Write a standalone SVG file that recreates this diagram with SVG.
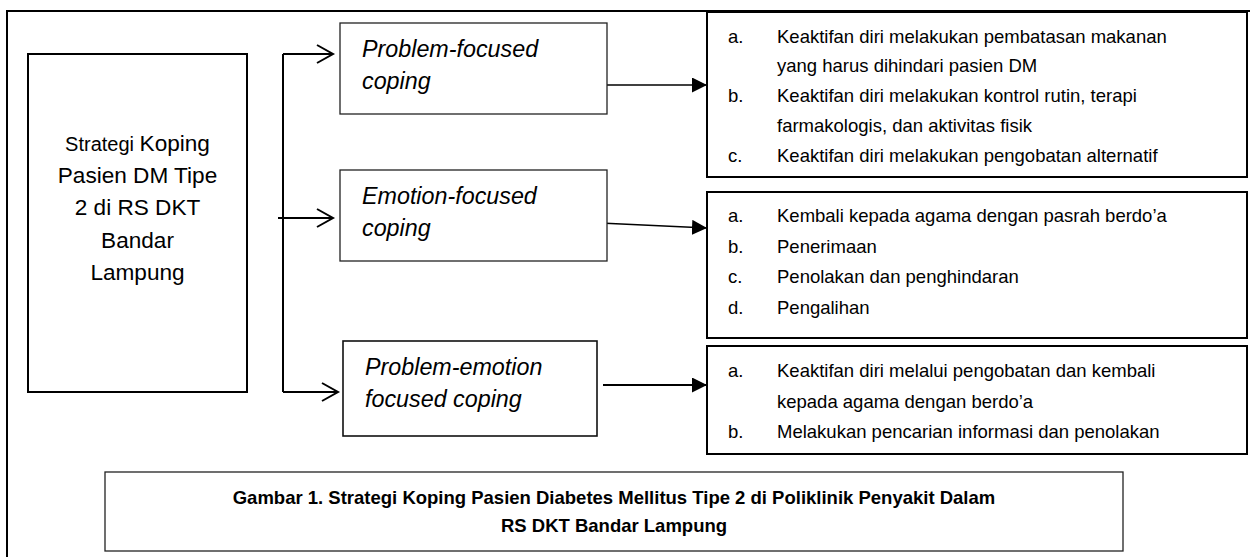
<svg xmlns="http://www.w3.org/2000/svg" width="1250" height="557" viewBox="0 0 1250 557">
<style>
  .t{font-family:"Liberation Sans",Arial,sans-serif;fill:#000}
  .list{font-size:18.5px}
  .lbl{font-size:23.3px;font-style:italic}
  .main{font-size:22.6px}
  .cap{font-size:18.5px;font-weight:bold}
  .box{fill:#fff;stroke:#000;stroke-width:2}
  .thin{fill:#fff;stroke:#222;stroke-width:1.3}
  .ln{fill:none;stroke:#000}
</style>
<defs>
  <marker id="tri" markerWidth="16" markerHeight="16" refX="15" refY="7.5" orient="auto" markerUnits="userSpaceOnUse">
    <path d="M0,0 L15,7.5 L0,15 Z" fill="#000"/>
  </marker>
</defs>
<rect x="7" y="11" width="1260" height="560" fill="#fff" stroke="#000" stroke-width="2"/>

<g id="connectors">
  <path class="ln" stroke-width="2" d="M283,54 L283,392"/>
  <path class="ln" stroke-width="2" d="M283,54 L333,54 M317,45 L333,54 L317,63"/>
  <path class="ln" stroke-width="2" d="M278,218 L333,218 M317,209 L333,218 L317,227"/>
  <path class="ln" stroke-width="2" d="M283,392 L338,392 M322,383 L338,392 L322,401"/>
  <line class="ln" stroke-width="1.3" x1="599" y1="85" x2="707" y2="85" marker-end="url(#tri)"/>
  <line class="ln" stroke-width="1.6" x1="600" y1="223" x2="707" y2="228" marker-end="url(#tri)"/>
  <line class="ln" stroke-width="2" x1="603" y1="385" x2="707" y2="385" marker-end="url(#tri)"/>
</g>

<g id="node-main">
  <rect class="box" x="28" y="54" width="219" height="338"/>
  <text class="t main" text-anchor="middle" x="137.5" y="151"><tspan font-size="20px">Strategi </tspan>Koping</text>
  <text class="t main" text-anchor="middle" x="137.5" y="183">Pasien DM Tipe</text>
  <text class="t main" text-anchor="middle" x="137.5" y="215">2 di RS DKT</text>
  <text class="t main" text-anchor="middle" x="137.5" y="248">Bandar</text>
  <text class="t main" text-anchor="middle" x="137.5" y="280">Lampung</text>
</g>

<g id="node-problem">
  <rect class="thin" x="340" y="23" width="267" height="91"/>
  <text class="t lbl" x="362" y="57">Problem-focused</text>
  <text class="t lbl" x="362" y="89">coping</text>
</g>

<g id="node-emotion">
  <rect class="thin" x="340" y="170" width="267" height="91"/>
  <text class="t lbl" x="362" y="204">Emotion-focused</text>
  <text class="t lbl" x="362" y="236">coping</text>
</g>

<g id="node-problem-emotion">
  <rect fill="#fff" stroke="#111" stroke-width="1.6" x="343" y="341" width="254" height="95"/>
  <text class="t lbl" x="365" y="375">Problem-emotion</text>
  <text class="t lbl" x="365" y="407">focused coping</text>
</g>

<g id="list-problem">
  <rect class="box" x="707" y="12" width="540" height="165"/>
  <text class="t list" x="728" y="43">a.</text>
  <text class="t list" x="777" y="43">Keaktifan diri melakukan pembatasan makanan</text>
  <text class="t list" x="777" y="72">yang harus dihindari pasien DM</text>
  <text class="t list" x="728" y="102">b.</text>
  <text class="t list" x="777" y="102">Keaktifan diri melakukan kontrol rutin, terapi</text>
  <text class="t list" x="777" y="132">farmakologis, dan aktivitas fisik</text>
  <text class="t list" x="728" y="162">c.</text>
  <text class="t list" x="777" y="162">Keaktifan diri melakukan pengobatan alternatif</text>
</g>

<g id="list-emotion">
  <rect class="box" x="707" y="192" width="540" height="146"/>
  <text class="t list" x="728" y="222">a.</text>
  <text class="t list" x="777" y="222">Kembali kepada agama dengan pasrah berdo’a</text>
  <text class="t list" x="728" y="253">b.</text>
  <text class="t list" x="777" y="253">Penerimaan</text>
  <text class="t list" x="728" y="283">c.</text>
  <text class="t list" x="777" y="283">Penolakan dan penghindaran</text>
  <text class="t list" x="728" y="314">d.</text>
  <text class="t list" x="777" y="314">Pengalihan</text>
</g>

<g id="list-problem-emotion">
  <rect class="box" x="707" y="346" width="540" height="108"/>
  <text class="t list" x="728" y="377">a.</text>
  <text class="t list" x="777" y="377">Keaktifan diri melalui pengobatan dan kembali</text>
  <text class="t list" x="777" y="408">kepada agama dengan berdo’a</text>
  <text class="t list" x="728" y="438">b.</text>
  <text class="t list" x="777" y="438">Melakukan pencarian informasi dan penolakan</text>
</g>

<g id="caption">
  <rect class="thin" x="105" y="472" width="1018" height="79"/>
  <text class="t cap" text-anchor="middle" x="614" y="504">Gambar 1. Strategi Koping Pasien Diabetes Mellitus Tipe 2 di Poliklinik Penyakit Dalam</text>
  <text class="t cap" text-anchor="middle" x="614" y="532">RS DKT Bandar Lampung</text>
</g>
</svg>
